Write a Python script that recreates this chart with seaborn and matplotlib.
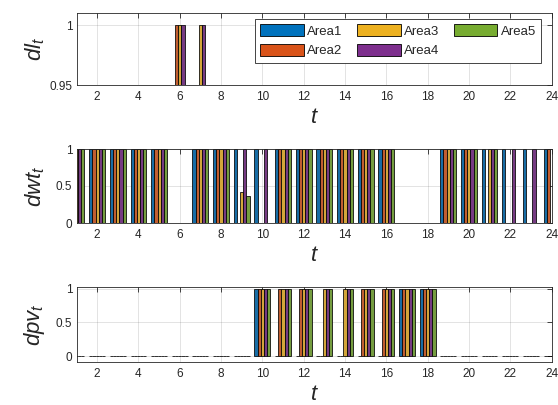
import matplotlib
matplotlib.use("Agg")
import matplotlib.pyplot as plt
from matplotlib.patches import Patch
import pandas as pd
import seaborn as sns

# ---- data -------------------------------------------------------------
hours = list(range(1, 25))
areas = ["Area1", "Area2", "Area3", "Area4", "Area5"]
colors = ["#0072BD", "#D95319", "#EDB120", "#7E2F8E", "#77AC30"]

# load-curtailment indicator dl_t (0.95 = floor of the axis, i.e. inactive)
dl_area1 = [0.95] * 24
dl_area2 = [0.95] * 5 + [1] + [0.95] * 18
dl_area3 = [0.95] * 5 + [1, 1] + [0.95] * 17
dl_area4 = [0.95] * 5 + [1, 1] + [0.95] * 17
dl_area5 = [0.95] * 24

# wind dispatch indicator dwt_t
dwt_area1 = [1, 1, 1, 1, 1, 0, 1, 1, 1, 1, 1, 1, 1, 1, 1, 1, 0, 0, 1, 1, 1, 1, 1, 1]
dwt_area2 = [1, 1, 1, 1, 1, 0, 1, 1, 0, 0, 1, 1, 1, 1, 1, 1, 0, 0, 1, 1, 0, 0, 0, 1]
dwt_area3 = [1, 1, 1, 1, 1, 0, 1, 1, 0.42, 0, 1, 1, 1, 1, 1, 1, 0, 0, 1, 1, 1, 0, 0, 0]
dwt_area4 = [1, 1, 1, 1, 1, 0, 1, 1, 1, 1, 1, 1, 1, 1, 1, 1, 0, 0, 1, 1, 1, 1, 1, 1]
dwt_area5 = [1, 1, 1, 1, 1, 0, 1, 1, 0.36, 0, 1, 1, 1, 1, 1, 1, 0, 0, 1, 1, 1, 0, 0, 0]

# PV dispatch indicator dpv_t
dpv_area1 = [0] * 9 + [1, 0, 0, 0, 0, 0, 0, 1, 1] + [0] * 6
dpv_area2 = [0] * 9 + [1, 1, 1, 0, 0, 1, 1, 1, 1] + [0] * 6
dpv_area3 = [0] * 9 + [1, 1, 1, 1, 1, 1, 1, 1, 1] + [0] * 6
dpv_area4 = [0] * 9 + [1, 1, 1, 1, 1, 1, 1, 1, 1] + [0] * 6
dpv_area5 = [0] * 9 + [1, 1, 1, 1, 1, 1, 1, 1, 1] + [0] * 6

x_ticks = list(range(2, 25, 2))


def long_table(series):
    rows = []
    for area, vals in zip(areas, series):
        for h, v in zip(hours, vals):
            rows.append({"t": h, "area": area, "value": v})
    return pd.DataFrame(rows)


dl_df = long_table([dl_area1, dl_area2, dl_area3, dl_area4, dl_area5])
dwt_df = long_table([dwt_area1, dwt_area2, dwt_area3, dwt_area4, dwt_area5])
dpv_df = long_table([dpv_area1, dpv_area2, dpv_area3, dpv_area4, dpv_area5])

# ---- style ------------------------------------------------------------
sns.set_style("white")
plt.rcParams["font.family"] = ["Liberation Sans", "DejaVu Sans"]
plt.rcParams["mathtext.fontset"] = "custom"
plt.rcParams["mathtext.it"] = "Liberation Sans:italic"
plt.rcParams["mathtext.rm"] = "Liberation Sans"

axis_color = "#262626"

fig = plt.figure(figsize=(5.58, 4.05), dpi=100)
W, H = 558.0, 405.0
ax_left, ax_right = 76.5, 551.5
rows_px = [(13.3, 85.0), (149.0, 223.0), (287.3, 361.7)]
axes = []
for top, bottom in rows_px:
    axes.append(fig.add_axes([ax_left / W, (H - bottom) / H,
                              (ax_right - ax_left) / W, (bottom - top) / H]))

panels = [
    (dl_df, "$dl_t$", (0.95, 1.01), [0.95, 1], ["0.95", "1"]),
    (dwt_df, "$dwt_t$", (0, 1), [0, 0.5, 1], ["0", "0.5", "1"]),
    (dpv_df, "$dpv_t$", (-0.085, 1.025), [0, 0.5, 1], ["0", "0.5", "1"]),
]

for ax, (df, ylab, ylim, yt, ytl) in zip(axes, panels):
    sns.barplot(data=df, x="t", y="value", hue="area", hue_order=areas,
                palette=colors, native_scale=True, width=0.77, gap=0,
                errorbar=None, edgecolor="black", linewidth=0.55,
                legend=False, ax=ax, zorder=2)
    ax.set_xlim(1, 24)
    ax.set_ylim(*ylim)
    ax.set_xticks(x_ticks)
    ax.set_xticklabels([str(v) for v in x_ticks])
    ax.set_yticks(yt)
    ax.set_yticklabels(ytl)
    ax.set_axisbelow(True)
    ax.grid(True, color=axis_color, alpha=0.15, linewidth=0.6)
    ax.tick_params(axis="both", direction="in", top=True, right=True,
                   length=3.5, width=0.6, colors=axis_color,
                   labelsize=8.5, labelcolor=axis_color)
    ax.tick_params(axis="x", pad=4.5)
    ax.tick_params(axis="y", pad=3)
    for s in ax.spines.values():
        s.set_visible(True)
        s.set_color(axis_color)
        s.set_linewidth(0.6)
    ax.set_xlabel("$t$", fontsize=16, color=axis_color, labelpad=3)
    ax.set_ylabel(ylab, fontsize=16, color=axis_color)
    ax.yaxis.set_label_coords(-0.062, 0.5)

handles = [Patch(facecolor=c, edgecolor="black", linewidth=0.6, label=a)
           for a, c in zip(areas, colors)]
leg = axes[0].legend(handles=handles, loc="upper right",
                     bbox_to_anchor=(0.978, 0.92), borderaxespad=0,
                     ncol=3, fontsize=9.5, frameon=True, fancybox=False,
                     handlelength=3.3, handleheight=0.95, handletextpad=0.25,
                     columnspacing=1.1, borderpad=0.4, labelspacing=0.5)
leg.get_frame().set_edgecolor(axis_color)
leg.get_frame().set_linewidth(0.6)
leg.get_frame().set_alpha(1)
leg.set_zorder(5)

fig.savefig("out.png", dpi=100)
